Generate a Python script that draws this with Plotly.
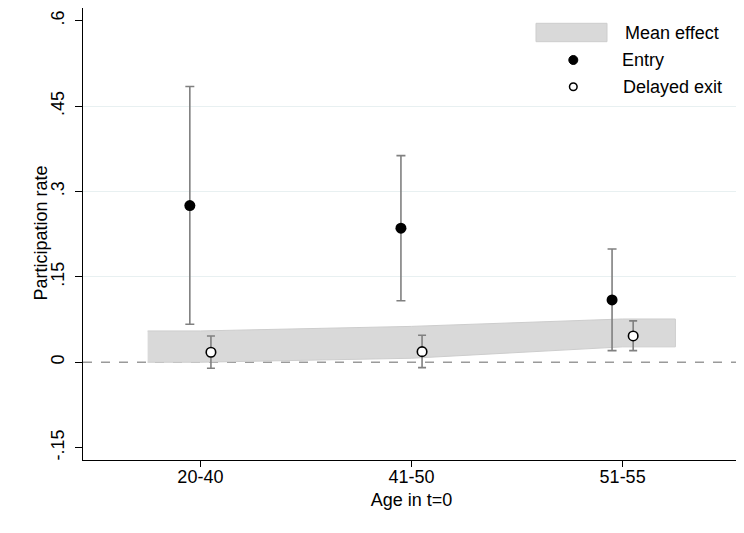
import plotly.graph_objects as go

# ---- data ----
categories = ["20-40", "41-50", "51-55"]
entry = [0.2754, 0.2356, 0.1095]
entry_lo = [0.0668, 0.1080, 0.0204]
entry_hi = [0.4846, 0.3630, 0.1990]
exit_ = [0.0176, 0.0186, 0.0462]
exit_lo = [-0.0106, -0.0095, 0.0204]
exit_hi = [0.0462, 0.0475, 0.0726]
band_low = [0.0, 0.007, 0.027]
band_high = [0.055, 0.063, 0.076]
ytick_vals = [-0.15, 0, 0.15, 0.3, 0.45, 0.6]
ytick_text = ["-.15", "0", ".15", ".3", ".45", ".6"]
grid_vals = [0.15, 0.3, 0.45]

FONT = "Liberation Sans, Arial, sans-serif"
FS = 18
idx = list(range(len(categories)))
OFF = 0.05
EXT = 0.25

# band polygon (extended flat by EXT at both ends)
bx = [idx[0] - EXT] + idx + [idx[-1] + EXT]
bhi = [band_high[0]] + band_high + [band_high[-1]]
blo = [band_low[0]] + band_low + [band_low[-1]]
poly_x = bx + bx[::-1]
poly_y = bhi + blo[::-1]

fig = go.Figure()
fig.add_trace(go.Scatter(
    x=poly_x, y=poly_y, fill="toself", mode="lines",
    fillcolor="#d9d9d9", line=dict(color="#cdcdcd", width=1),
    name="Mean effect", showlegend=False, hoverinfo="skip"))

fig.add_trace(go.Scatter(
    x=[i - OFF for i in idx], y=entry, mode="markers", name="Entry",
    marker=dict(color="black", size=11),
    error_y=dict(type="data", symmetric=False,
                 array=[h - v for h, v in zip(entry_hi, entry)],
                 arrayminus=[v - l for l, v in zip(entry_lo, entry)],
                 color="#808080", thickness=1.6, width=4.5),
    showlegend=False))

fig.add_trace(go.Scatter(
    x=[i + OFF for i in idx], y=exit_, mode="markers", name="Delayed exit",
    marker=dict(color="white", size=9.5, line=dict(color="black", width=1.6)),
    error_y=dict(type="data", symmetric=False,
                 array=[h - v for h, v in zip(exit_hi, exit_)],
                 arrayminus=[v - l for l, v in zip(exit_lo, exit_)],
                 color="#808080", thickness=1.6, width=4),
    showlegend=False))

# dashed zero reference line
fig.add_shape(type="line", xref="paper", x0=0, x1=1, yref="y", y0=0, y1=0,
              line=dict(color="#9a9a9a", width=1.6, dash="dash"), layer="below")

# page offset (default body margin) compensation
PAGE = 8
W, H = 744, 533
L, R, T, B = 83 - PAGE, 740 - PAGE, 8 - PAGE, 460 - PAGE   # plot area in figure px
def px(x):  # window px -> paper
    return (x - PAGE - L) / (R - L)
def py(y):
    return (B - (y - PAGE)) / (B - T)

fig.add_shape(type="rect", xref="paper", yref="paper",
              x0=px(536), x1=px(607), y0=py(41.7), y1=py(23.3),
              fillcolor="#d9d9d9", line=dict(color="#cdcdcd", width=1))
fig.add_shape(type="circle", xref="paper", yref="paper",
              xsizemode="pixel", ysizemode="pixel",
              xanchor=px(573.3), yanchor=py(60), x0=-4.5, x1=4.5, y0=-4.5, y1=4.5,
              fillcolor="black", line=dict(color="black", width=1))
fig.add_shape(type="circle", xref="paper", yref="paper",
              xsizemode="pixel", ysizemode="pixel",
              xanchor=px(573.3), yanchor=py(86.7), x0=-3.8, x1=3.8, y0=-3.8, y1=3.8,
              fillcolor="white", line=dict(color="black", width=1.5))
for txt, x, y in [("Mean effect", 622.7, 32.7), ("Entry", 620, 60), ("Delayed exit", 621, 86.7)]:
    fig.add_annotation(text=txt, xref="paper", yref="paper", x=px(x), y=py(y),
                       xanchor="left", yanchor="middle", showarrow=False,
                       font=dict(family=FONT, size=FS, color="black"))

# y-axis title placed as rotated text
fig.add_annotation(text="Participation rate", xref="paper", yref="paper",
                   x=px(40), y=py(233.5), textangle=-90,
                   xanchor="center", yanchor="middle", showarrow=False,
                   font=dict(family=FONT, size=FS, color="black"))

fig.update_layout(
    width=W, height=H,
    margin=dict(l=L, r=W - R, t=T, b=H - B, autoexpand=False),
    paper_bgcolor="white", plot_bgcolor="white",
    font=dict(family=FONT, size=FS, color="black"),
    showlegend=False,
    xaxis=dict(
        range=[-0.556, 2.556], tickmode="array", tickvals=idx, ticktext=categories,
        showline=True, linecolor="black", linewidth=1.2,
        ticks="outside", ticklen=6, tickcolor="black", tickwidth=1,
        showgrid=False, zeroline=False, automargin=False,
        ticklabelstandoff=-6,
        title=dict(text="Age in t=0", standoff=7, font=dict(size=FS)),
        tickfont=dict(size=FS)),
    yaxis=dict(
        range=[-0.1718, 0.6225], tickmode="array", tickvals=ytick_vals, ticktext=ytick_text,
        tickangle=-90,
        showline=True, linecolor="black", linewidth=1.2,
        ticks="outside", ticklen=7, tickcolor="black", tickwidth=1,
        showgrid=False, zeroline=False, automargin=False,
        ticklabelstandoff=4,
        minor=dict(tickmode="array", tickvals=grid_vals, showgrid=True,
                   gridcolor="#e8f0f1", gridwidth=1.2, ticks=""),
        tickfont=dict(size=FS)),
)

fig.write_html("out.html")
